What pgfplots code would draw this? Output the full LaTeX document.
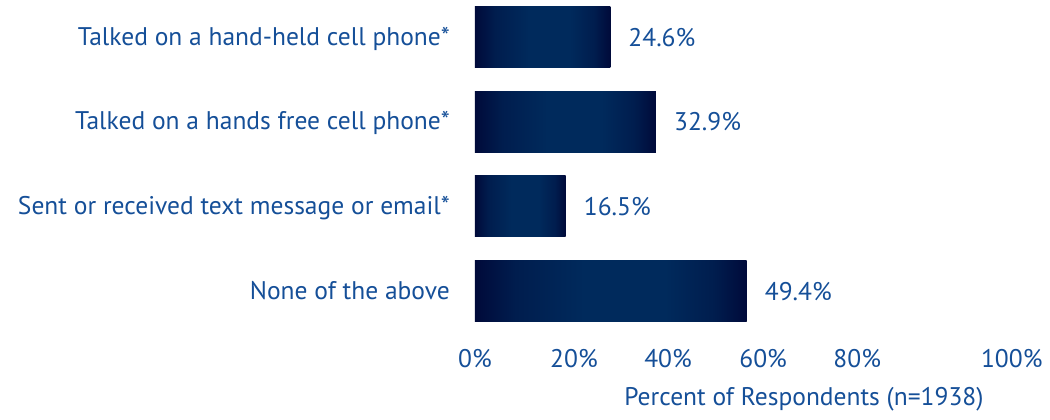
\documentclass[border=0pt]{standalone}
\usepackage{fontspec}
\setmainfont{PT Sans}
\usepackage{pgfplots}
\pgfplotsset{compat=1.18}
\definecolor{navyD}{HTML}{000A3A}
\definecolor{navyA}{HTML}{001D4E}
\definecolor{navyM}{HTML}{002A5C}
\definecolor{txt}{HTML}{154F98}
\pgfdeclarehorizontalshading{barshade}{100bp}{color(0bp)=(navyD); color(25bp)=(navyD); color(32.5bp)=(navyA); color(45bp)=(navyM); color(60bp)=(navyM); color(69bp)=(navyA); color(75bp)=(navyD); color(100bp)=(navyD)}
\newcommand{\bigf}{\fontsize{25.5bp}{30bp}\selectfont}
\begin{document}
\begin{tikzpicture}
\begin{axis}[
  name=ax,
  scale only axis,
  width=550bp, height=326bp,
  xmin=0, xmax=100,
  ymin=-0.35, ymax=3.5,
  y dir=reverse,
  axis line style={draw=none},
  clip=false,
  xbar, bar width=61bp,
  ytick={0,1,2,3},
  yticklabels={Talked on a hand-held cell phone*,Talked on a hands free cell phone*,Sent or received text message or email*,None of the above},
  xtick={0,18,35.1,52.4,69.5,97.6},
  xticklabels={0\%,20\%,40\%,60\%,80\%,100\%},
  major tick length=0pt,
  tick style={draw=none},
  /pgf/number format/assume math mode=true,
  tick label style={font=\bigf, text=txt, inner sep=0pt},
  yticklabel style={anchor=base east, xshift=-25bp, yshift=-8bp},
  xticklabel style={anchor=base, yshift=-34bp},
  xlabel={Percent of Respondents (n=1938)},
  xlabel style={at={(rel axis cs:0.598,0)}, anchor=base, inner sep=0pt, yshift=-72bp, font=\bigf, text=txt},
  nodes near coords={\pgfmathprintnumber[fixed,fixed zerofill,precision=1,assume math mode=true]{\pgfplotspointmeta}\%},
  nodes near coords style={font=\bigf, text=txt, anchor=base west, inner sep=0pt, xshift=18bp, yshift=-9bp},
  point meta=x,
  every axis plot/.append style={draw=none, shading=barshade, bar shift=0pt},
]
\addplot coordinates {(24.6,0)};
\addplot coordinates {(32.9,1)};
\addplot coordinates {(16.5,2)};
\addplot coordinates {(49.4,3)};
\end{axis}
\useasboundingbox ([xshift=-475bp,yshift=7.4bp]ax.north west) rectangle ([xshift=575bp,yshift=-412.6bp]ax.north west);
\end{tikzpicture}
\end{document}
